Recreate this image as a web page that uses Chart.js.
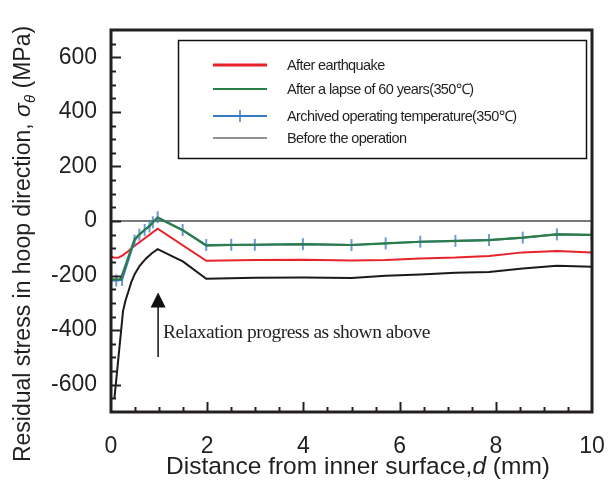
<!DOCTYPE html>
<html>
<head>
<meta charset="utf-8">
<script src="https://cdn.jsdelivr.net/npm/chart.js@4.4.1/dist/chart.umd.min.js"></script>
<style>
  html, body { margin: 0; padding: 0; background: #fff; }
  canvas { display: block; }
</style>
</head>
<body>
<canvas id="stressChart" width="608" height="482"></canvas>
<script>
// distance from inner surface (mm) and hoop residual stress (MPa)
const quakeX  = [0, 0.08, 0.16, 0.25, 0.35, 0.5, 0.97, 1.98, 3, 4, 5, 5.71, 6.43, 7.16, 7.86, 8.56, 9.27, 10];
const quakeY  = [-130, -135, -134, -125, -112, -90, -28, -146, -143, -142, -145, -143, -137, -134, -128, -115, -110, -115];

const lapseX  = [0, 0.2, 0.49, 0.6, 0.7, 0.8, 0.87, 0.97, 1.5, 1.98, 2.5, 3, 4, 5, 5.71, 6.43, 7.16, 7.86, 8.56, 9.27, 10];
const lapseY  = [-214, -214, -66, -48, -32, -18, -5, 12, -35, -90, -88, -87, -85, -88, -82, -76, -73, -70, -61, -49, -51];

const archX   = [0, 0.11, 0.23, 0.49, 0.59, 0.7, 0.8, 0.87, 0.97, 1.49, 1.98, 2.5, 2.99, 3.99, 5.0, 5.71, 6.43, 7.16, 7.86, 8.56, 9.27, 9.99];
const archY   = [-218, -218, -216, -72, -50, -33, -20, -5, 14, -33, -88, -87, -87, -85, -88, -82, -76, -73, -70, -61, -49, -51];

const beforeX = [0.07, 0.25, 0.3, 0.35, 0.42, 0.5, 0.6, 0.73, 0.85, 0.97, 1.5, 1.98, 3, 4, 5, 5.71, 6.43, 7.16, 7.86, 8.56, 9.27, 10];
const beforeY = [-652, -330, -292, -265, -225, -192, -163, -137, -118, -103, -149, -212, -208, -207, -209, -201, -196, -190, -187, -174, -164, -168];

const zeroX = [0, 10];
const zeroY = [0, 0];

const xTickValues = [0, 2, 4, 6, 8, 10];
const yTickValues = [-600, -400, -200, 0, 200, 400, 600];

const toPoints = (xs, ys) => xs.map((x, i) => ({ x: x, y: ys[i] }));

const ctx = document.getElementById('stressChart').getContext('2d');
const sans = '"Liberation Sans", Arial, sans-serif';

// frame, inward tick marks, boxed legend, titles and the arrow note
const decorPlugin = {
    id: 'decor',
    afterDraw(chart) {
        const c = chart.ctx;
        const area = chart.chartArea;
        const xs = chart.scales.x;
        const ys = chart.scales.y;
        c.save();

        // inward ticks
        c.strokeStyle = '#231f20';
        c.lineWidth = 2;
        for (let v = -650; v <= 650; v += 50) {
            const py = Math.round(ys.getPixelForValue(v)) + 0.5;
            const len = (v % 200 === 0) ? 10 : 5;
            c.beginPath();
            c.moveTo(area.left, py);
            c.lineTo(area.left + len, py);
            c.stroke();
        }
        for (let v = 0.5; v < 10; v += 0.5) {
            const px = Math.round(xs.getPixelForValue(v)) + 0.5;
            const len = (Math.abs(v % 2) < 1e-6) ? 10 : 5;
            c.beginPath();
            c.moveTo(px, area.bottom);
            c.lineTo(px, area.bottom - len);
            c.stroke();
        }

        // frame
        c.lineWidth = 3;
        c.strokeRect(area.left, area.top, area.right - area.left, area.bottom - area.top);

        // legend box
        c.lineWidth = 1.5;
        c.strokeStyle = '#111';
        c.strokeRect(178.5, 40.5, 408, 118);
        c.font = '14.5px ' + sans;
        c.letterSpacing = '-0.6px';
        c.fillStyle = '#231f20';
        c.textBaseline = 'middle';
        const rows = [65, 89, 116, 138];
        chart.data.datasets.forEach(ds => {
            if (ds.legendRow === undefined) return;
            const y = rows[ds.legendRow];
            c.strokeStyle = ds.legendColor || ds.borderColor;
            c.lineWidth = ds.legendWidth || ds.borderWidth;
            c.beginPath();
            c.moveTo(213, y);
            c.lineTo(267, y);
            c.stroke();
            if (ds.pointRadius > 0) {
                c.strokeStyle = ds.borderColor;
                c.lineWidth = 1.5;
                c.beginPath();
                c.moveTo(240, y - 6);
                c.lineTo(240, y + 6);
                c.stroke();
            }
            c.fillText(ds.label, 287, y + 1);
        });
        c.letterSpacing = '0px';

        // arrow + note
        const ax = xs.getPixelForValue(1.0) - 1;
        const tipY = ys.getPixelForValue(-262);
        const tailY = ys.getPixelForValue(-498);
        c.strokeStyle = '#111';
        c.fillStyle = '#111';
        c.lineWidth = 1.5;
        c.beginPath();
        c.moveTo(ax, tailY);
        c.lineTo(ax, tipY + 12);
        c.stroke();
        c.beginPath();
        c.moveTo(ax, tipY);
        c.lineTo(ax - 7.5, tipY + 15);
        c.lineTo(ax + 7.5, tipY + 15);
        c.closePath();
        c.fill();
        c.font = '19.5px "Liberation Serif", "Times New Roman", serif';
        c.letterSpacing = '-0.5px';
        c.textBaseline = 'alphabetic';
        c.fillStyle = '#231f20';
        c.fillText('Relaxation progress as shown above', ax + 5, ys.getPixelForValue(-429));
        c.letterSpacing = '0px';

        // titles with italic symbols
        const drawRuns = (runs, cx, cy) => {
            let total = 0;
            runs.forEach(r => { c.font = r.font; total += c.measureText(r.text).width; });
            let x = cx - total / 2;
            runs.forEach(r => {
                c.font = r.font;
                c.fillText(r.text, x, cy + (r.dy || 0));
                x += c.measureText(r.text).width;
            });
        };
        c.fillStyle = '#231f20';
        drawRuns([
            { text: 'Distance from inner surface,', font: '24.5px ' + sans },
            { text: 'd', font: 'italic 24.5px ' + sans },
            { text: ' (mm)', font: '24.5px ' + sans }
        ], 358, 474);

        c.translate(30, 244);
        c.rotate(-Math.PI / 2);
        drawRuns([
            { text: 'Residual stress in hoop direction, ', font: '23px ' + sans },
            { text: '\u03C3', font: 'italic 23px ' + sans },
            { text: '\u03B8', font: 'italic 15px ' + sans, dy: 5 },
            { text: ' (MPa)', font: '23px ' + sans }
        ], 0, 0);

        c.restore();
    }
};

new Chart(ctx, {
    type: 'line',
    data: {
        // first dataset is painted last, so the green curve sits on top
        datasets: [
            {
                label: 'After a lapse of 60 years(350\u2103)',
                legendRow: 1,
                data: toPoints(lapseX, lapseY),
                borderColor: '#2b7d45',
                borderWidth: 2.2,
                pointRadius: 0,
                clip: false
            },
            {
                label: 'Archived operating temperature(350\u2103)',
                legendRow: 2,
                data: toPoints(archX, archY),
                borderColor: '#3b78c3',
                borderWidth: 2,
                pointStyle: 'line',
                rotation: 90,
                pointRadius: 6,
                pointBorderColor: 'rgba(59,120,195,0.75)',
                pointBorderWidth: 2,
                clip: false
            },
            {
                label: 'After earthquake',
                legendRow: 0,
                data: toPoints(quakeX, quakeY),
                borderColor: '#e8222b',
                borderWidth: 2,
                legendWidth: 3,
                pointRadius: 0,
                clip: false
            },
            {
                label: 'Before the operation',
                legendRow: 3,
                data: toPoints(beforeX, beforeY),
                borderColor: '#1a1a1a',
                borderWidth: 2,
                legendColor: '#6d6e70',
                legendWidth: 1.5,
                pointRadius: 0,
                clip: false
            },
            {
                data: toPoints(zeroX, zeroY),
                borderColor: '#4d4d4f',
                borderWidth: 1.5,
                pointRadius: 0,
                clip: false
            }
        ]
    },
    options: {
        responsive: false,
        animation: false,
        devicePixelRatio: 1,
        layout: { padding: { top: 30, right: 16, left: 0, bottom: 0 } },
        elements: { line: { tension: 0 } },
        plugins: {
            legend: { display: false },
            tooltip: { enabled: false }
        },
        scales: {
            x: {
                type: 'linear',
                min: 0,
                max: 10,
                grid: { display: false, drawTicks: false },
                border: { display: false },
                ticks: {
                    color: '#231f20',
                    padding: 21,
                    font: { family: sans, size: 23 }
                },
                afterBuildTicks: s => { s.ticks = xTickValues.map(v => ({ value: v })); },
                afterFit: s => { s.height = 70; s.paddingLeft = 0; s.paddingRight = 0; }
            },
            y: {
                min: -700,
                max: 700,
                grid: { display: false, drawTicks: false },
                border: { display: false },
                ticks: {
                    color: '#231f20',
                    padding: 14,
                    font: { family: sans, size: 23 }
                },
                afterBuildTicks: s => { s.ticks = yTickValues.map(v => ({ value: v })); },
                afterFit: s => { s.width = 111; s.paddingTop = 0; s.paddingBottom = 0; }
            }
        }
    },
    plugins: [decorPlugin]
});
</script>
</body>
</html>
